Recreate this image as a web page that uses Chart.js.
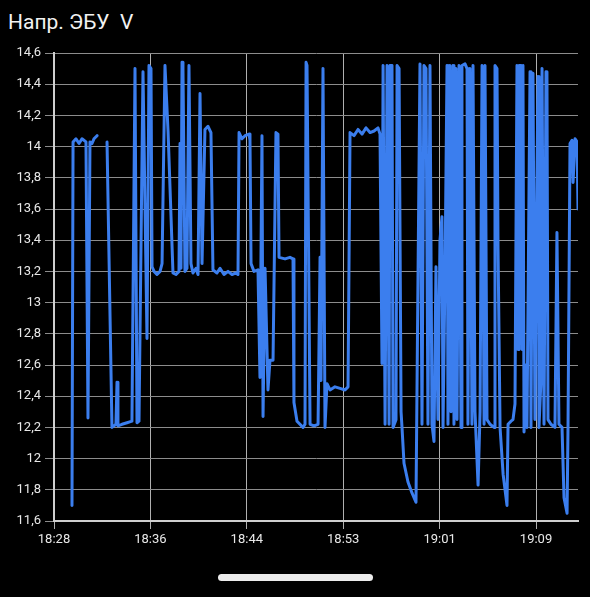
<!DOCTYPE html>
<html>
<head>
<meta charset="utf-8">
<script src="https://cdn.jsdelivr.net/npm/chart.js@4"></script>
<style>
  html, body { margin: 0; padding: 0; background: #000; width: 590px; height: 597px; overflow: hidden; }
  #title { position: absolute; left: 8px; top: 10px; color: #f2f2f2; font: 21px Roboto, sans-serif; white-space: pre; }
  #wrap { position: absolute; left: 0; top: 0; width: 590px; height: 560px; }
  #homeBar { position: absolute; left: 218px; top: 574px; width: 155px; height: 7px; border-radius: 4px; background: #ececec; }
</style>
</head>
<body>
<div id="title">Напр. ЭБУ  V</div>
<div id="wrap"><canvas id="voltChart" width="590" height="560"></canvas></div>
<div id="homeBar"></div>
<script>
// minutes since 18:28
const times = [
  1.53, 1.62, 1.87, 2.13, 2.38, 2.72, 2.89, 3.06, 3.23, 3.40, 3.66, 3.90,
  4.51, 4.93, 5.10, 5.27, 5.36, 5.44, 5.78, 6.21, 6.63, 6.89, 7.06, 7.23,
  7.57, 7.91, 8.08, 8.25, 8.34, 8.51, 8.76, 9.02, 9.19, 9.44, 9.70, 10.12,
  10.38, 10.63, 10.72, 10.80, 10.89, 10.97, 11.14, 11.31, 11.48, 11.65, 11.82, 12.08,
  12.25, 12.42, 12.59, 12.84, 13.10, 13.35, 13.52, 13.86, 14.12, 14.46, 14.80, 15.14,
  15.48, 15.65, 15.74, 15.99, 16.25, 16.59, 16.67, 16.76, 17.01, 17.35, 17.52, 17.69,
  17.78, 17.95, 18.20, 18.37, 18.63, 18.88, 19.05, 19.14, 19.65, 20.07, 20.33, 20.41,
  20.67, 20.92, 21.18, 21.35, 21.44, 21.52, 21.78, 22.12, 22.46, 22.63, 22.71, 22.88,
  23.05, 23.22, 23.48, 23.90, 24.33, 24.75, 25.01, 25.18, 25.52, 25.86, 26.20, 26.54,
  26.88, 27.22, 27.56, 27.73, 27.90, 27.99, 28.16, 28.33, 28.50, 28.58, 28.75, 28.84,
  29.09, 29.18, 29.35, 29.52, 29.60, 29.77, 30.11, 30.45, 30.79, 30.96, 31.13, 31.30,
  31.47, 31.64, 31.81, 31.98, 32.15, 32.32, 32.49, 32.66, 32.83, 33.00, 33.09, 33.26,
  33.43, 33.51, 33.68, 33.77, 33.94, 34.02, 34.19, 34.28, 34.45, 34.62, 34.70, 34.96,
  35.13, 35.21, 35.38, 35.55, 35.64, 35.81, 36.07, 36.24, 36.41, 36.58, 36.66, 36.83,
  37.09, 37.43, 37.51, 37.68, 37.77, 37.94, 38.20, 38.53, 38.62, 38.87, 39.04, 39.21,
  39.38, 39.47, 39.55, 39.72, 39.81, 39.89, 39.98, 40.15, 40.23, 40.49, 40.57, 40.74,
  40.91, 41.00, 41.17, 41.25, 41.42, 41.51, 41.68, 41.85, 41.93, 42.02, 42.27, 42.61,
  42.78, 42.95, 43.21, 43.38, 43.64, 43.72, 43.89, 44.06, 44.15, 44.32, 44.49, 44.57
];

const volts = [
  11.70, 14.03, 14.05, 14.02, 14.05, 14.03, 12.26, 14.03, 14.02, 14.05, 14.07, null,
  14.03, 12.20, 12.21, 12.22, 12.49, 12.21, 12.22, 12.23, 12.24, 14.50, 12.23, 12.24,
  14.48, 12.77, 14.52, 14.50, 13.23, 13.20, 13.18, 13.20, 13.25, 14.52, 14.10, 13.19,
  13.18, 13.20, 14.02, 13.22, 14.54, 14.50, 13.20, 13.22, 14.52, 13.25, 13.19, 13.22,
  13.18, 14.34, 13.25, 14.11, 14.13, 14.09, 13.21, 13.19, 13.22, 13.18, 13.20, 13.18,
  13.19, 13.18, 14.09, 14.05, 14.07, 14.08, 14.04, 13.25, 13.20, 13.21, 12.52, 14.07,
  12.27, 13.22, 12.44, 12.63, 12.63, 14.09, 14.08, 13.29, 13.28, 13.29, 13.28, 12.36,
  12.24, 12.22, 12.20, 12.22, 14.54, 14.52, 12.22, 12.21, 12.22, 13.29, 12.50, 14.50,
  12.20, 12.48, 12.44, 12.46, 12.45, 12.44, 12.46, 14.09, 14.07, 14.11, 14.08, 14.12,
  14.09, 14.10, 14.12, 14.08, 12.61, 14.52, 12.22, 14.52, 12.22, 14.52, 14.52, 12.20,
  12.25, 14.52, 14.50, 12.30, 12.20, 11.97, 11.85, 11.78, 11.72, 13.16, 14.53, 12.22,
  14.52, 14.50, 12.22, 14.52, 12.22, 12.11, 13.23, 12.25, 13.40, 13.55, 12.20, 13.20,
  14.52, 12.22, 14.52, 12.30, 14.52, 12.22, 14.50, 12.25, 14.52, 12.20, 14.52, 14.53,
  14.50, 12.22, 14.50, 12.22, 14.52, 12.30, 11.83, 12.30, 14.52, 12.22, 14.52, 12.25,
  12.22, 12.20, 14.52, 14.50, 13.34, 12.20, 11.90, 11.70, 12.22, 12.24, 12.25, 12.35,
  14.52, 12.70, 14.52, 14.52, 12.70, 14.52, 12.17, 12.60, 12.20, 14.48, 12.20, 14.47,
  12.25, 13.20, 14.45, 12.20, 12.50, 14.50, 12.22, 14.48, 14.45, 12.25, 12.22, 12.20,
  13.45, 12.22, 12.20, 11.75, 11.65, 12.20, 14.02, 14.04, 13.77, 14.05, 14.03, 13.60
];

const timeLabels = ['18:28', '18:36', '18:44', '18:53', '19:01', '19:09'];
const tickStep = 8.2;
const yTicks = [11.6, 11.8, 12, 12.2, 12.4, 12.6, 12.8, 13, 13.2, 13.4, 13.6, 13.8, 14, 14.2, 14.4, 14.6];

const points = times.map((t, i) => ({ x: t, y: volts[i] }));

const ctx = document.getElementById('voltChart').getContext('2d');
new Chart(ctx, {
  type: 'line',
  data: {
    datasets: [{
      data: points,
      borderColor: 'rgb(59, 126, 238)',
      borderWidth: 3,
      borderJoinStyle: 'round',
      borderCapStyle: 'round',
      pointRadius: 0,
      tension: 0,
      spanGaps: false
    }]
  },
  options: {
    responsive: false,
    animation: false,
    layout: { padding: { top: 53, right: 12, left: 0, bottom: 0 } },
    plugins: {
      legend: { display: false },
      tooltip: { enabled: false }
    },
    scales: {
      x: {
        type: 'linear',
        min: 0,
        max: 44.57,
        afterFit: scale => { scale.height = 39; },
        afterBuildTicks: scale => {
          scale.ticks = timeLabels.map((_, i) => ({ value: i * tickStep }));
        },
        ticks: {
          autoSkip: false,
          maxRotation: 0,
          padding: 3,
          color: '#e8e8e8',
          font: { family: 'Roboto', size: 13 },
          callback: (value, index) => timeLabels[index]
        },
        grid: { color: '#b0b0b0', lineWidth: 1, tickLength: 8 },
        border: { color: '#cfcfcf', width: 2 }
      },
      y: {
        min: 11.6,
        max: 14.6,
        afterFit: scale => { scale.width = 54; },
        afterBuildTicks: scale => {
          scale.ticks = yTicks.map(v => ({ value: v }));
        },
        ticks: {
          padding: 4,
          color: '#e8e8e8',
          font: { family: 'Roboto', size: 13 },
          callback: value => String(Math.round(value * 10) / 10).replace('.', ',')
        },
        grid: { color: '#8c8c8c', lineWidth: 1, tickLength: 9 },
        border: { color: '#cfcfcf', width: 2 }
      }
    }
  }
});
</script>
</body>
</html>
